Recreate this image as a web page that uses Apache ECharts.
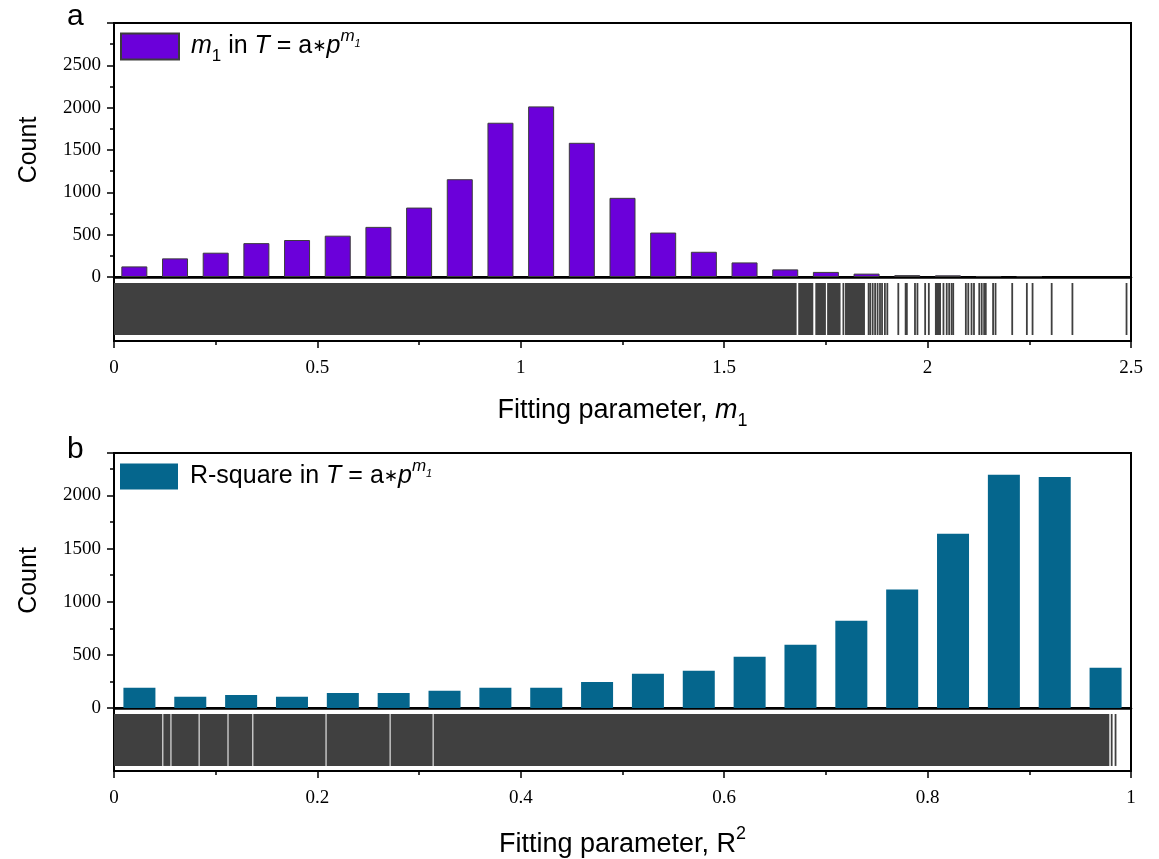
<!DOCTYPE html>
<html><head><meta charset="utf-8">
<script src="https://cdn.jsdelivr.net/npm/echarts@6/dist/echarts.min.js"></script>
<style>html,body{margin:0;padding:0;background:#fff}#c{width:1159px;height:859px}</style>
</head><body><div id="c"></div>
<script>
// ---- Panel a: histogram of m1 ----
const m1Centers = [0.05,0.15,0.25,0.35,0.45,0.55,0.65,0.75,0.85,0.95,1.05,1.15,1.25,1.35,1.45,1.55,1.65,1.75,1.85,1.95,2.05,2.15,2.25];
const m1Counts  = [125,220,287,400,437,488,592,820,1155,1822,2015,1585,935,525,298,172,90,60,40,22,20,12,10];
// rug of m1: dense spans [from,to] and single observations
const m1RugSpans = [[0,1.678],[1.682,1.719],[1.724,1.750],[1.753,1.786],[1.797,1.846],[2.018,2.033]];
const m1RugLines = [1.793,1.855,1.859,1.865,1.871,1.877,1.883,1.888,1.895,1.901,1.928,1.946,1.949,1.969,1.975,1.994,2.003,2.039,2.047,2.053,2.059,2.063,2.094,2.100,2.108,2.114,2.127,2.133,2.139,2.143,2.161,2.167,2.208,2.244,2.258,2.305,2.356,2.489];
// ---- Panel b: histogram of R-square ----
const r2Centers = [0.025,0.075,0.125,0.175,0.225,0.275,0.325,0.375,0.425,0.475,0.525,0.575,0.625,0.675,0.725,0.775,0.825,0.875,0.925,0.975];
const r2Counts  = [190,105,123,105,142,142,162,190,190,245,322,350,482,595,822,1115,1640,2195,2175,380];
const r2RugSpans = [[0,0.0475],[0.0485,0.0555],[0.0565,0.0832],[0.0842,0.1116],[0.1126,0.1360],[0.1370,0.2080],[0.2090,0.2710],[0.2720,0.3133],[0.3143,0.9787]];
const r2RugLines = [0.9810,0.9848];
// axis ticks
const yTicksA = {min:0, max:3000, interval:500};
const yTicksB = {min:0, max:2400, interval:500};
const xTicksA = {min:0, max:2.5, interval:0.5};
const xTicksB = {min:0, max:1, interval:0.2};

const SANS = 'Liberation Sans', SERIF = 'Liberation Serif';
const colA = '#6B00DA', colB = '#05668D', rugCol = '#404040';

function makeRich(fs){
  return {
    t:  {fontFamily:SANS, fontSize:fs, color:'#000', lineHeight:fs+12, verticalAlign:'middle'},
    i:  {fontFamily:SANS, fontSize:fs, color:'#000', fontStyle:'italic', lineHeight:fs+12, verticalAlign:'middle'},
    sub:{fontFamily:SANS, fontSize:Math.round(fs*0.66), color:'#000', lineHeight:Math.round(fs*0.66), verticalAlign:'bottom'},
    sup:{fontFamily:SANS, fontSize:Math.round(fs*0.66), color:'#000', fontStyle:'italic', lineHeight:Math.round(fs*0.66), verticalAlign:'top'},
    ssup:{fontFamily:SANS, fontSize:Math.round(fs*0.66), color:'#000', lineHeight:Math.round(fs*0.66), verticalAlign:'top'},
    ss: {fontFamily:SANS, fontSize:Math.round(fs*0.45), color:'#000', fontStyle:'italic', lineHeight:Math.round(fs*0.45), verticalAlign:'top', padding:[Math.round(fs*0.38),0,0,0]},
    op: {fontFamily:'DejaVu Sans', fontSize:Math.round(fs*0.66), color:'#000', lineHeight:fs+12, verticalAlign:'middle'}
  };
}
const richLegend = makeRich(25), richTitle = makeRich(27);

function yAx(grid, t){
  return {gridIndex:grid, type:'value', min:t.min, max:t.max, interval:t.interval,
    name: 'Count', nameLocation:'middle', nameGap:72, nameRotate:90,
    nameTextStyle:{fontFamily:SANS, fontSize:25, color:'#000'},
    axisLine:{show:true, lineStyle:{color:'#000', width:2}},
    axisTick:{show:true, inside:false, length:7, lineStyle:{color:'#000', width:1.5}},
    minorTick:{show:true, splitNumber:2, length:4, lineStyle:{color:'#000', width:1.5}},
    axisLabel:{fontFamily:SERIF, fontSize:19, color:'#000', margin:13, showMaxLabel:false,
      formatter: v => String(v)},
    splitLine:{show:false}, minorSplitLine:{show:false}};
}
function xBase(grid, t){
  return {gridIndex:grid, type:'value', min:t.min, max:t.max, interval:t.interval,
    axisLine:{show:true, onZero:false, lineStyle:{color:'#000', width:2.5}},
    axisTick:{show:false}, axisLabel:{show:false}, splitLine:{show:false}};
}
function xRug(grid, t, name, gap){
  return {gridIndex:grid, type:'value', min:t.min, max:t.max, interval:t.interval,
    name:name, nameLocation:'middle', nameGap:gap,
    nameTextStyle:{rich:richTitle},
    axisLine:{show:true, onZero:false, lineStyle:{color:'#000', width:2}},
    axisTick:{show:true, inside:false, length:7, lineStyle:{color:'#000', width:1.5}},
    minorTick:{show:true, splitNumber:2, length:4, lineStyle:{color:'#000', width:1.5}},
    axisLabel:{fontFamily:SERIF, fontSize:19, color:'#000', margin:18,
      formatter: v => String(+v.toFixed(2))},
    splitLine:{show:false}, minorSplitLine:{show:false}};
}
function hidY(grid){ return {gridIndex:grid, type:'value', min:0, max:1, show:false}; }

function spanRender(y0, y1){
  return function(params, api){
    const a = api.coord([api.value(0), y0]);
    const b = api.coord([api.value(1), y1]);
    return {type:'rect', shape:{x:a[0], y:b[1], width:Math.max(b[0]-a[0],1.5), height:a[1]-b[1]},
      style:{fill:rugCol}};
  };
}
function lineRender(y0, y1){
  return function(params, api){
    const a = api.coord([api.value(0), y0]);
    const b = api.coord([api.value(0), y1]);
    return {type:'rect', shape:{x:a[0]-0.9, y:b[1], width:1.8, height:a[1]-b[1]},
      style:{fill:rugCol}};
  };
}

const gridStyle = {show:true, borderColor:'#000', borderWidth:2, backgroundColor:'transparent'};
const option = {
  animation:false,
  backgroundColor:'#fff',
  grid:[
    Object.assign({left:114, top:23, width:1017, height:254}, gridStyle),
    Object.assign({left:114, top:277, width:1017, height:64}, gridStyle),
    Object.assign({left:114, top:453, width:1017, height:255}, gridStyle),
    Object.assign({left:114, top:708, width:1017, height:63}, gridStyle)
  ],
  xAxis:[
    xBase(0, xTicksA),
    xRug(1, xTicksA, '{t|Fitting parameter, }{i|m}{sub|1}', 50),
    xBase(2, xTicksB),
    xRug(3, xTicksB, '{t|Fitting parameter, R}{ssup|2}', 54)
  ],
  yAxis:[ yAx(0, yTicksA), hidY(1), yAx(2, yTicksB), hidY(3) ],
  legend:[
    {left:115, top:23, itemWidth:58, itemHeight:26, icon:'rect', data:['m1'],
      formatter: () => ' {i|m}{sub|1}{t| in }{i|T}{t| = a}{op|∗}{i|p}{sup|m}{ss|1}',
      textStyle:{rich:richLegend, fontSize:25}},
    {left:115, top:453, itemWidth:58, itemHeight:26, icon:'rect', data:['R2'],
      formatter: () => ' {t|R-square in }{i|T}{t| = a}{op|∗}{i|p}{sup|m}{ss|1}',
      textStyle:{rich:richLegend, fontSize:25}}
  ],
  graphic:[
    {type:'text', left:67, top:2, style:{text:'a', font:'30px "Liberation Sans"', fill:'#000'}},
    {type:'text', left:67, top:435, style:{text:'b', font:'30px "Liberation Sans"', fill:'#000'}}
  ],
  series:[
    {name:'m1', type:'bar', xAxisIndex:0, yAxisIndex:0, barWidth:26,
      data: m1Centers.map((x,i)=>[x, m1Counts[i]]),
      itemStyle:{color:colA, borderColor:'#3c3c3c', borderWidth:1}},
    {type:'custom', xAxisIndex:1, yAxisIndex:1, renderItem:spanRender(0.094,0.906),
      data:m1RugSpans, encode:{x:[0,1]}, silent:true},
    {type:'custom', xAxisIndex:1, yAxisIndex:1, renderItem:lineRender(0.094,0.906),
      data:m1RugLines.map(v=>[v]), encode:{x:0}, silent:true},
    {name:'R2', type:'bar', xAxisIndex:2, yAxisIndex:2, barWidth:32,
      data: r2Centers.map((x,i)=>[x, r2Counts[i]]),
      itemStyle:{color:colB, borderColor:colB, borderWidth:0}},
    {type:'custom', xAxisIndex:3, yAxisIndex:3, renderItem:spanRender(0.08,0.905),
      data:r2RugSpans, encode:{x:[0,1]}, silent:true},
    {type:'custom', xAxisIndex:3, yAxisIndex:3, renderItem:lineRender(0.08,0.905),
      data:r2RugLines.map(v=>[v]), encode:{x:0}, silent:true}
  ]
};
const chart = echarts.init(document.getElementById('c'), null, {renderer:'canvas'});
chart.setOption(option);
</script>
</body></html>
